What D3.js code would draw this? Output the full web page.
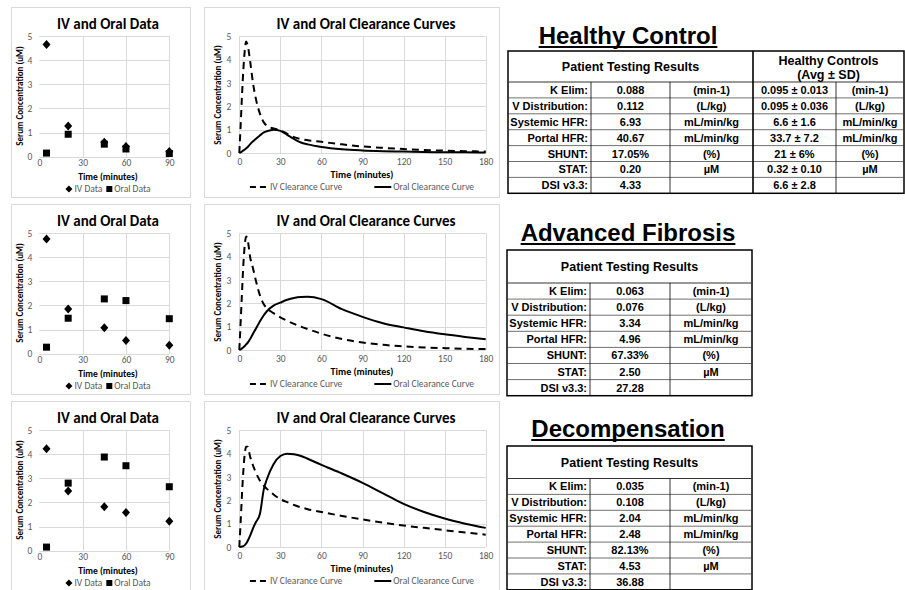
<!DOCTYPE html>
<html>
<head>
<meta charset="utf-8">
<script src="https://cdn.jsdelivr.net/npm/d3@7"></script>
<style>
  body { margin: 0; background: #fff; }
  svg { display: block; }
</style>
</head>
<body>
<script>
// sampled points (IV and oral), minutes
var sampleTimes = [5, 20, 45, 60, 90]
var healthyIvData = [4.65, 1.27, 0.6, 0.42, 0.22]
var healthyOralData = [0.15, 0.93, 0.52, 0.32, 0.13]
var fibrosisIvData = [4.75, 1.85, 1.07, 0.55, 0.35]
var fibrosisOralData = [0.27, 1.47, 2.27, 2.2, 1.45]
var decompIvData = [4.22, 2.47, 1.82, 1.58, 1.22]
var decompOralData = [0.15, 2.8, 3.88, 3.52, 2.65]

// clearance curves
var curveTimes = [0, 1, 2, 3, 4, 5, 6, 8, 10, 12, 15, 18, 20, 25, 30, 35, 40, 45, 50, 60, 75, 90, 105, 120, 135, 150, 165, 180]
var healthyIvCurve = [0, 1.2, 2.5, 3.6, 4.4, 4.78, 4.65, 3.9, 3.0, 2.35, 1.7, 1.3, 1.17, 1.05, 0.97, 0.82, 0.68, 0.6, 0.55, 0.48, 0.37, 0.28, 0.22, 0.17, 0.13, 0.1, 0.08, 0.06]
var healthyOralCurve = [0, 0.03, 0.07, 0.11, 0.15, 0.2, 0.25, 0.38, 0.5, 0.6, 0.75, 0.88, 0.93, 1.0, 0.95, 0.78, 0.6, 0.45, 0.37, 0.26, 0.16, 0.11, 0.08, 0.06, 0.04, 0.03, 0.03, 0.02]
var fibrosisIvCurve = [0, 1.2, 2.5, 3.7, 4.5, 4.86, 4.75, 3.95, 3.5, 3.0, 2.35, 1.95, 1.8, 1.58, 1.4, 1.25, 1.12, 1.0, 0.9, 0.7, 0.47, 0.32, 0.22, 0.16, 0.11, 0.08, 0.05, 0.04]
var fibrosisOralCurve = [0, 0.03, 0.07, 0.12, 0.17, 0.24, 0.3, 0.48, 0.7, 0.9, 1.22, 1.5, 1.65, 1.9, 2.03, 2.15, 2.23, 2.27, 2.28, 2.18, 1.75, 1.42, 1.15, 0.97, 0.8, 0.67, 0.56, 0.46]
var decompIvCurve = [0, 1.1, 2.3, 3.3, 4.0, 4.3, 4.3, 3.85, 3.5, 3.2, 2.85, 2.62, 2.5, 2.25, 2.05, 1.92, 1.8, 1.7, 1.62, 1.5, 1.33, 1.18, 1.04, 0.92, 0.82, 0.72, 0.62, 0.53]
var decompOralCurve = [0, 0.01, 0.02, 0.04, 0.08, 0.15, 0.25, 0.5, 0.8, 1.05, 1.4, 2.5, 2.88, 3.55, 3.9, 4.0, 3.97, 3.9, 3.78, 3.52, 3.15, 2.75, 2.3, 1.85, 1.5, 1.22, 1.0, 0.82]

var scatterTicksX = [0, 30, 60, 90]
var curveTicksX = [0, 30, 60, 90, 120, 150, 180]
var ticksY = [0, 1, 2, 3, 4, 5]

// tables
var rowLabels = ["K Elim:", "V Distribution:", "Systemic HFR:", "Portal HFR:", "SHUNT:", "STAT:", "DSI v3.3:"]
var rowUnits = ["(min-1)", "(L/kg)", "mL/min/kg", "mL/min/kg", "(%)", "\u00b5M", ""]
var healthyResults = ["0.088", "0.112", "6.93", "40.67", "17.05%", "0.20", "4.33"]
var controlRanges = ["0.095 \u00b1 0.013", "0.095 \u00b1 0.036", "6.6 \u00b1 1.6", "33.7 \u00b1 7.2", "21 \u00b1 6%", "0.32 \u00b1 0.10", "6.6 \u00b1 2.8"]
var fibrosisResults = ["0.063", "0.076", "3.34", "4.96", "67.33%", "2.50", "27.28"]
var decompResults = ["0.035", "0.108", "2.04", "2.48", "82.13%", "4.53", "36.88"]

var CHART_FONT = "Carlito, Lato, 'Noto Sans', sans-serif"
var TABLE_FONT = "'Liberation Sans', Arial, sans-serif"
var GRID = "#d9d9d9"
var TICK_COLOR = "#595959"
var TICK_SIZE = 9.5

var svg = d3.select("body").append("svg")
    .attr("width", 905)
    .attr("height", 590)

drawScatter(0, healthyIvData, healthyOralData)
drawScatter(197, fibrosisIvData, fibrosisOralData)
drawScatter(394, decompIvData, decompOralData)

drawCurves(0, healthyIvCurve, healthyOralCurve)
drawCurves(197, fibrosisIvCurve, fibrosisOralCurve)
drawCurves(394, decompIvCurve, decompOralCurve)

drawTitle("Healthy Control", 628, 44)
drawTitle("Advanced Fibrosis", 628, 241)
drawTitle("Decompensation", 628, 437)

drawTable(51, 82, 15.9, [508, 591, 670, 753, 836, 904],
  [rowLabels, healthyResults, rowUnits, controlRanges, rowUnits], true)
drawTable(250, 283, 16.1, [507, 590, 670, 752],
  [rowLabels, fibrosisResults, rowUnits], false)
drawTable(446, 478.5, 15.9, [507, 590, 670, 752],
  [rowLabels, decompResults, rowUnits], false)

function styleTicks(sel) {
  sel.select(".domain").remove()
  sel.selectAll("text")
      .attr("fill", TICK_COLOR)
      .attr("font-family", CHART_FONT)
      .attr("font-size", TICK_SIZE)
}

// legend laid out from measured text widths, centred on cx
function drawLegend(g, cx, ly, items, gap) {
  var row = g.append("g")
  var pos = 0
  items.forEach(function(it, i) {
    var key = row.append("g").attr("transform", "translate(" + pos + ",0)")
    it.key(key)
    var t = row.append("text")
        .attr("x", pos + it.keyWidth + 2).attr("y", ly)
        .attr("font-family", CHART_FONT).attr("font-size", TICK_SIZE)
        .attr("fill", TICK_COLOR)
        .text(it.label)
    pos += it.keyWidth + 2 + t.node().getComputedTextLength() + (i < items.length - 1 ? gap : 0)
  })
  row.attr("transform", "translate(" + (cx - pos / 2) + ",0)")
}

function drawScatter(oy, ivVals, oralVals) {
  var g = svg.append("g")
  var x = d3.scaleLinear().domain([0, 90]).range([39.3, 169.3])
  var y = d3.scaleLinear().domain([0, 5]).range([oy + 156.7, oy + 36])

  g.append("rect")
      .attr("x", 11.5).attr("y", oy + 7.5)
      .attr("width", 179).attr("height", 190)
      .attr("fill", "#fff").attr("stroke", GRID)

  g.selectAll(".hgrid").data(ticksY).enter().append("line")
      .attr("x1", x(0)).attr("x2", x(90))
      .attr("y1", function(d) { return Math.round(y(d)) + 0.5 })
      .attr("y2", function(d) { return Math.round(y(d)) + 0.5 })
      .attr("stroke", GRID)
  g.selectAll(".vgrid").data(scatterTicksX.slice(1)).enter().append("line")
      .attr("x1", function(d) { return Math.round(x(d)) + 0.5 })
      .attr("x2", function(d) { return Math.round(x(d)) + 0.5 })
      .attr("y1", y(5)).attr("y2", y(0))
      .attr("stroke", GRID)

  g.append("g")
      .attr("transform", "translate(" + x(0) + ",0)")
      .call(d3.axisLeft(y).tickValues(ticksY).tickFormat(d3.format("d")).tickSize(0).tickPadding(7))
      .call(styleTicks)
  g.append("g")
      .attr("transform", "translate(0," + y(0) + ")")
      .call(d3.axisBottom(x).tickValues(scatterTicksX).tickFormat(d3.format("d")).tickSize(0).tickPadding(3))
      .call(styleTicks)

  g.append("text")
      .attr("x", 108).attr("y", oy + 29)
      .attr("text-anchor", "middle")
      .attr("font-family", CHART_FONT).attr("font-weight", "bold")
      .attr("font-size", 15)
      .text("IV and Oral Data")

  g.append("text")
      .attr("transform", "translate(23," + (oy + 96) + ") rotate(-90)")
      .attr("text-anchor", "middle")
      .attr("font-family", CHART_FONT).attr("font-weight", "bold")
      .attr("font-size", 9)
      .text("Serum Concentration (uM)")

  g.append("text")
      .attr("x", 108).attr("y", oy + 180)
      .attr("text-anchor", "middle")
      .attr("font-family", CHART_FONT).attr("font-weight", "bold")
      .attr("font-size", 9.5)
      .text("Time (minutes)")

  var diamond = "M0,-4.5L4,0L0,4.5L-4,0Z"

  g.selectAll(".oral").data(oralVals).enter().append("rect")
      .attr("x", function(d, i) { return x(sampleTimes[i]) - 3.5 })
      .attr("y", function(d) { return y(d) - 3.5 })
      .attr("width", 7).attr("height", 7)
      .attr("fill", "#000")
  g.selectAll(".iv").data(ivVals).enter().append("path")
      .attr("d", diamond)
      .attr("transform", function(d, i) { return "translate(" + x(sampleTimes[i]) + "," + y(d) + ")" })
      .attr("fill", "#000")

  var ly = oy + 192
  drawLegend(g, 108, ly, [
    { label: "IV Data", keyWidth: 7, key: function(k) {
        k.append("path").attr("d", "M3.5,-3.5L7,0L3.5,3.5L0,0Z")
            .attr("transform", "translate(0," + (ly - 3) + ")").attr("fill", "#000") } },
    { label: "Oral Data", keyWidth: 6, key: function(k) {
        k.append("rect").attr("x", 0).attr("y", ly - 6).attr("width", 6).attr("height", 6).attr("fill", "#000") } }
  ], 4)
}

function drawCurves(oy, ivVals, oralVals) {
  var g = svg.append("g")
  var x = d3.scaleLinear().domain([0, 180]).range([239.3, 485.7])
  var y = d3.scaleLinear().domain([0, 5]).range([oy + 153, oy + 36.3])

  g.append("rect")
      .attr("x", 204.5).attr("y", oy + 7.5)
      .attr("width", 295).attr("height", 190)
      .attr("fill", "#fff").attr("stroke", GRID)

  g.selectAll(".hgrid").data(ticksY).enter().append("line")
      .attr("x1", x(0)).attr("x2", x(180))
      .attr("y1", function(d) { return Math.round(y(d)) + 0.5 })
      .attr("y2", function(d) { return Math.round(y(d)) + 0.5 })
      .attr("stroke", GRID)
  g.selectAll(".vgrid").data(curveTicksX).enter().append("line")
      .attr("x1", function(d) { return Math.round(x(d)) + 0.5 })
      .attr("x2", function(d) { return Math.round(x(d)) + 0.5 })
      .attr("y1", y(5)).attr("y2", y(0))
      .attr("stroke", GRID)

  g.append("g")
      .attr("transform", "translate(" + x(0) + ",0)")
      .call(d3.axisLeft(y).tickValues(ticksY).tickFormat(d3.format("d")).tickSize(0).tickPadding(8))
      .call(styleTicks)
  g.append("g")
      .attr("transform", "translate(0," + y(0) + ")")
      .call(d3.axisBottom(x).tickValues(curveTicksX).tickFormat(d3.format("d")).tickSize(0).tickPadding(5))
      .call(styleTicks)

  g.append("text")
      .attr("x", 366).attr("y", oy + 29)
      .attr("text-anchor", "middle")
      .attr("font-family", CHART_FONT).attr("font-weight", "bold")
      .attr("font-size", 15)
      .text("IV and Oral Clearance Curves")

  g.append("text")
      .attr("transform", "translate(221," + (oy + 95) + ") rotate(-90)")
      .attr("text-anchor", "middle")
      .attr("font-family", CHART_FONT).attr("font-weight", "bold")
      .attr("font-size", 9)
      .text("Serum Concentration (uM)")

  g.append("text")
      .attr("x", 362).attr("y", oy + 178)
      .attr("text-anchor", "middle")
      .attr("font-family", CHART_FONT).attr("font-weight", "bold")
      .attr("font-size", 10)
      .text("Time (minutes)")

  var line = d3.line()
      .x(function(d, i) { return x(curveTimes[i]) })
      .y(function(d) { return y(d) })
      .curve(d3.curveMonotoneX)

  g.append("path").datum(ivVals)
      .attr("d", line)
      .attr("fill", "none").attr("stroke", "#000")
      .attr("stroke-width", 2).attr("stroke-dasharray", "7,5")
  g.append("path").datum(oralVals)
      .attr("d", line)
      .attr("fill", "none").attr("stroke", "#000")
      .attr("stroke-width", 2)

  var ly = oy + 190
  drawLegend(g, 362, ly, [
    { label: "IV Clearance Curve", keyWidth: 18, key: function(k) {
        k.append("line").attr("x1", 0).attr("x2", 18).attr("y1", ly - 3).attr("y2", ly - 3)
            .attr("stroke", "#000").attr("stroke-width", 2).attr("stroke-dasharray", "6,4") } },
    { label: "Oral Clearance Curve", keyWidth: 17, key: function(k) {
        k.append("line").attr("x1", 0).attr("x2", 17).attr("y1", ly - 3).attr("y2", ly - 3)
            .attr("stroke", "#000").attr("stroke-width", 2) } }
  ], 32)
}

function drawTitle(label, cx, baseline) {
  var t = svg.append("text")
      .attr("x", cx).attr("y", baseline)
      .attr("text-anchor", "middle")
      .attr("font-family", TABLE_FONT).attr("font-weight", "bold")
      .attr("font-size", 24)
      .text(label)
  var w = t.node().getComputedTextLength()
  svg.append("line")
      .attr("x1", cx - w / 2).attr("x2", cx + w / 2)
      .attr("y1", baseline + 3).attr("y2", baseline + 3)
      .attr("stroke", "#000").attr("stroke-width", 2)
}

function drawTable(top, headBottom, rowH, cols, columns, withControls) {
  var g = svg.append("g")
  var n = rowLabels.length
  var bottom = headBottom + n * rowH
  var left = cols[0], right = cols[cols.length - 1]

  g.append("rect")
      .attr("x", left).attr("y", top)
      .attr("width", right - left).attr("height", bottom - top)
      .attr("fill", "#fff").attr("stroke", "#000").attr("stroke-width", 1.5)

  d3.range(n).forEach(function(i) {
    var yy = headBottom + i * rowH
    g.append("line")
        .attr("x1", left).attr("x2", right).attr("y1", yy).attr("y2", yy)
        .attr("stroke", "#333").attr("stroke-width", i === 0 ? 1 : 0.7)
  })
  cols.slice(1, -1).forEach(function(cx, j) {
    var thick = withControls && j === 2
    g.append("line")
        .attr("x1", cx).attr("x2", cx)
        .attr("y1", thick ? top : headBottom).attr("y2", bottom)
        .attr("stroke", "#000").attr("stroke-width", thick ? 1.6 : 0.8)
  })

  g.append("text")
      .attr("x", (cols[0] + cols[3]) / 2).attr("y", (top + headBottom) / 2 + 4.5)
      .attr("text-anchor", "middle")
      .attr("font-family", TABLE_FONT).attr("font-weight", "bold").attr("font-size", 12.5)
      .text("Patient Testing Results")

  if (withControls) {
    var hc = (cols[3] + cols[5]) / 2
    g.append("text")
        .attr("x", hc).attr("y", top + 14)
        .attr("text-anchor", "middle")
        .attr("font-family", TABLE_FONT).attr("font-weight", "bold").attr("font-size", 12.5)
        .text("Healthy Controls")
    g.append("text")
        .attr("x", hc).attr("y", top + 28)
        .attr("text-anchor", "middle")
        .attr("font-family", TABLE_FONT).attr("font-weight", "bold").attr("font-size", 12.5)
        .text("(Avg \u00b1 SD)")
  }

  columns.forEach(function(col, c) {
    g.selectAll(".c" + c).data(col).enter().append("text")
        .attr("x", c === 0 ? cols[1] - 3 : (cols[c] + cols[c + 1]) / 2)
        .attr("y", function(d, i) { return headBottom + (i + 0.5) * rowH + 4 })
        .attr("text-anchor", c === 0 ? "end" : "middle")
        .attr("font-family", TABLE_FONT).attr("font-weight", "bold").attr("font-size", 11)
        .text(function(d) { return d })
  })
}
</script>
</body>
</html>
